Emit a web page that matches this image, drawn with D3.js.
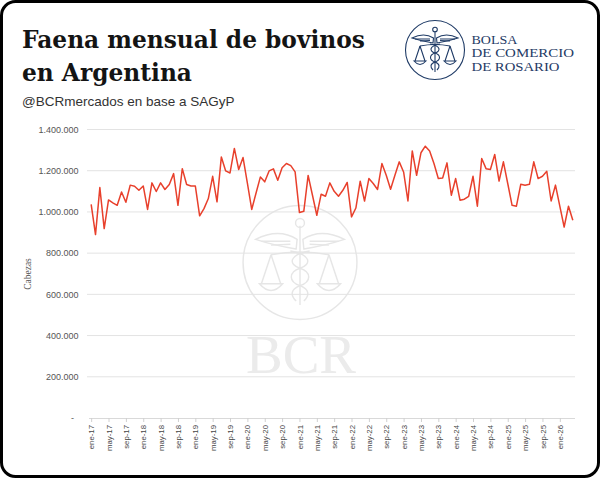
<!DOCTYPE html>
<html>
<head>
<meta charset="utf-8">
<script src="https://cdn.jsdelivr.net/npm/d3@7"></script>
<style>
  html, body { margin: 0; padding: 0; background: #fff; }
  svg { display: block; }
</style>
</head>
<body>
<div id="chart"></div>
<script>
// Faena mensual de bovinos en Argentina (cabezas, miles)
const width = 600;
const height = 479;

const monthNames = ["ene", "feb", "mar", "abr", "may", "jun", "jul", "ago", "sep", "oct", "nov", "dic"];
const years = ["17", "18", "19", "20", "21", "22", "23", "24", "25", "26"];

// values, thousands of heads, ene-17 .. abr-26
const faena = [
  1037, 890, 1118, 919, 1058, 1044, 1032, 1097, 1047, 1130, 1125, 1105,
  1126, 1012, 1141, 1099, 1141, 1109, 1133, 1186, 1032, 1210, 1133, 1126,
  1126, 981, 1016, 1065, 1173, 1049, 1267, 1199, 1189, 1308, 1206, 1264,
  1140, 1012, 1092, 1170, 1146, 1199, 1209, 1154, 1214, 1235, 1225, 1194,
  997, 1003, 1177, 1081, 984, 1086, 1076, 1141, 1100, 1076, 1105, 1143,
  976, 1019, 1149, 1053, 1162, 1138, 1109, 1235, 1178, 1110, 1178, 1243,
  1194, 1053, 1296, 1178, 1287, 1319, 1296, 1235, 1162, 1165, 1238, 1081,
  1162, 1057, 1062, 1076, 1173, 1028, 1259, 1210, 1206, 1279, 1150, 1243,
  1138, 1032, 1028, 1134, 1130, 1134, 1243, 1162, 1173, 1197, 1053, 1130,
  1028, 927, 1028, 960
];

const yTicks = [0, 200000, 400000, 600000, 800000, 1000000, 1200000, 1400000];

// month labels for every point
const categories = [];
years.forEach(y => monthNames.forEach(m => categories.push(m + "-" + y)));
categories.length = faena.length;
const tickLabels = categories.filter((d, i) => i % 4 === 0);

const data = faena.map((v, i) => ({ label: categories[i], value: v * 1000 }));

const svg = d3.select("#chart").append("svg")
    .attr("width", width)
    .attr("height", height);

// card border
svg.append("rect")
    .attr("x", 1.5).attr("y", 1.5)
    .attr("width", width - 3).attr("height", height - 4)
    .attr("rx", 14)
    .attr("fill", "#fff")
    .attr("stroke", "#000")
    .attr("stroke-width", 3);

// titles
const title = svg.append("g").attr("fill", "#141414")
    .style("font-family", "'DejaVu Serif', serif")
    .style("font-weight", "bold");
const t1 = title.append("text").attr("x", 22).attr("y", 48).text("Faena mensual de bovinos");
const t2 = title.append("text").attr("x", 22).attr("y", 81).text("en Argentina");
t1.style("font-size", "26px");
const fs = 26 * 343 / t1.node().getComputedTextLength();
t1.style("font-size", fs + "px");
t2.style("font-size", fs + "px");

svg.append("text")
    .attr("x", 22).attr("y", 106)
    .style("font-family", "'Liberation Sans', Arial, sans-serif")
    .style("font-size", "13.5px")
    .attr("fill", "#333")
    .text("@BCRmercados en base a SAGyP");

// logo drawing, unit radius 30
function drawLogo(g, color, sw) {
  g.attr("fill", "none").attr("stroke", color).attr("stroke-width", sw);
  g.append("circle").attr("r", 29.5);
  g.append("line").attr("x1", 0).attr("y1", -19).attr("x2", 0).attr("y2", 22);
  g.append("circle").attr("cy", -20.5).attr("r", 2.3);
  [-1, 1].forEach(s => {
    g.append("path").attr("d",
      `M${s * 1.5},-12 Q${s * 11},-18 ${s * 23},-12 Q${s * 14},-9 ${s * 2},-7 Z`);
    g.append("path").attr("d",
      `M${s * 5},-11 L${s * 20},-11 M${s * 5},-9.5 L${s * 15},-9`);
    // scale strings and pan
    g.append("path").attr("d",
      `M${s * 15},-4 L${s * 10},11 M${s * 15},-4 L${s * 20},11 M${s * 9},11 Q${s * 15},18 ${s * 21},11 Z`);
  });
  g.append("path").attr("d", "M-15,-4 Q0,-7 15,-4");
  // snakes
  g.append("path").attr("d",
    "M-5,-6 C6,-4 6,1 0,3 C-6,5 -6,10 0,12 C5,14 5,17 2,20");
  g.append("path").attr("d",
    "M5,-6 C-6,-4 -6,1 0,3 C6,5 6,10 0,12 C-5,14 -5,17 -2,20");
}

const logo = svg.append("g").attr("transform", "translate(435,50)");
drawLogo(logo, "#1f3b66", 1.1);

const logoText = svg.append("g").attr("fill", "#1f3b66")
    .style("font-family", "'Liberation Serif', serif")
    .style("font-size", "11.5px");
[["BOLSA", 43.5, 46], ["DE COMERCIO", 57, 102.5], ["DE ROSARIO", 70.5, 88]].forEach(d => {
  logoText.append("text")
      .attr("x", 471.5).attr("y", d[1])
      .attr("textLength", d[2])
      .attr("lengthAdjust", "spacingAndGlyphs")
      .text(d[0]);
});

// plot area
const x = d3.scalePoint()
    .domain(categories)
    .range([89, 575])
    .padding(0.5);

const y = d3.scaleLinear()
    .domain([0, 1400000])
    .range([418, 129.5]);

// watermark
const wm = svg.append("g").attr("transform", "translate(300,262.5) scale(1.93)");
drawLogo(wm, "#e6e6e6", 0.75);
svg.append("text")
    .attr("x", 301).attr("y", 373)
    .attr("text-anchor", "middle")
    .attr("fill", "#ebebeb")
    .style("font-family", "'Liberation Serif', serif")
    .style("font-size", "55px")
    .text("BCR");

// grid
svg.append("g")
    .selectAll("line")
    .data(yTicks.slice(1))
    .enter().append("line")
    .attr("x1", 87).attr("x2", 575)
    .attr("y1", d => y(d)).attr("y2", d => y(d))
    .attr("stroke", "#e3e3e3")
    .attr("stroke-width", 1);

// y axis labels
const fmt = d => d === 0 ? "-" : d3.format(",")(d).replace(/,/g, ".");
svg.append("g")
    .selectAll("text")
    .data(yTicks)
    .enter().append("text")
    .attr("x", d => d === 0 ? 74 : 78.5)
    .attr("y", d => y(d))
    .attr("dy", "0.35em")
    .attr("text-anchor", "end")
    .attr("fill", "#555")
    .style("font-family", "'Liberation Sans', Arial, sans-serif")
    .style("font-size", "9px")
    .text(fmt);

svg.append("text")
    .attr("transform", "translate(31,274) rotate(-90)")
    .attr("text-anchor", "middle")
    .attr("fill", "#555")
    .style("font-family", "'Liberation Serif', serif")
    .style("font-size", "9.5px")
    .text("Cabezas");

// x axis
const xAxis = svg.append("g")
    .attr("transform", `translate(0,${y(0)})`)
    .call(d3.axisBottom(x).tickValues(tickLabels).tickSize(4).tickPadding(5));
xAxis.select(".domain").attr("stroke", "#d9d9d9").attr("d", "M89,0.5H575");
xAxis.selectAll(".tick line").attr("stroke", "#d0d0d0");
xAxis.selectAll(".tick text")
    .attr("fill", "#444")
    .style("font-family", "'Liberation Sans', Arial, sans-serif")
    .style("font-size", "7.8px")
    .attr("text-anchor", "end")
    .attr("transform", "rotate(-90)")
    .attr("x", -7)
    .attr("y", 0)
    .attr("dy", "0.33em");

// line
const line = d3.line()
    .x(d => x(d.label))
    .y(d => y(d.value));

svg.append("path")
    .datum(data)
    .attr("fill", "none")
    .attr("stroke", "#e8402c")
    .attr("stroke-width", 1.5)
    .attr("stroke-linejoin", "round")
    .attr("d", line);
</script>
</body>
</html>
